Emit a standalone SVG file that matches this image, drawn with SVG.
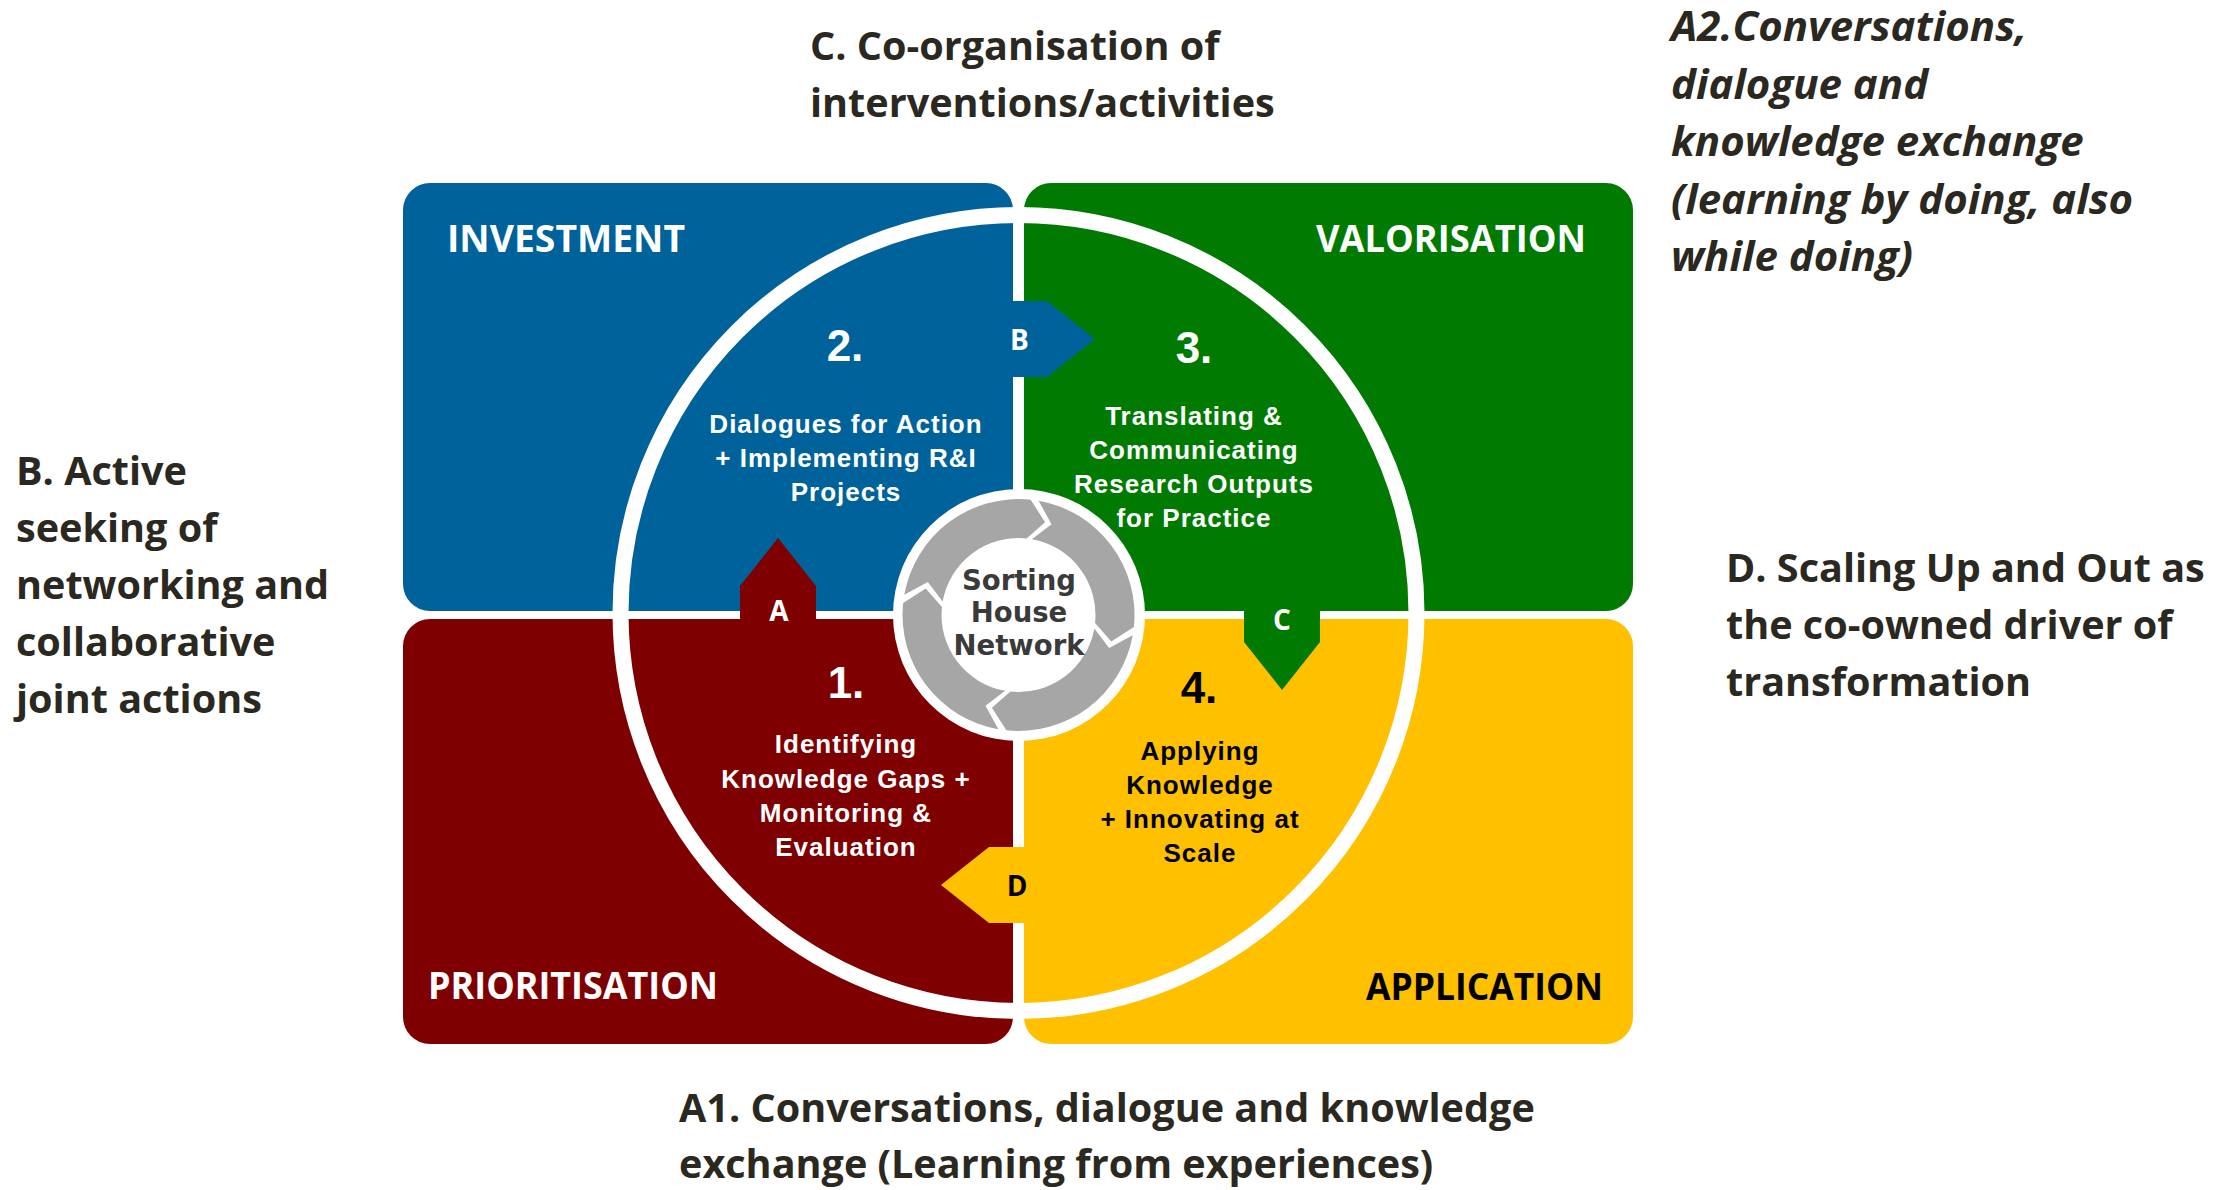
<svg xmlns="http://www.w3.org/2000/svg" width="2240" height="1190" viewBox="0 0 2240 1190">
<style>
.qtitle{font-family:'Open Sans','Liberation Sans',sans-serif;font-weight:700;font-size:38px}
.num{font-family:'Liberation Sans',Arial,sans-serif;font-weight:700;font-size:44px;text-anchor:middle}
.body{font-family:'Liberation Sans',Arial,sans-serif;font-weight:700;font-size:26px;letter-spacing:1px;text-anchor:middle}
.outer{font-family:'Open Sans','Liberation Sans',sans-serif;font-weight:700;font-size:39.6px;fill:#2b2821}
.ital{font-style:italic;font-size:42px}
.tag{font-family:'Open Sans','Liberation Sans',sans-serif;font-weight:700;font-size:28px;text-anchor:middle}
.sh{font-family:'DejaVu Sans',Verdana,sans-serif;font-weight:700;font-size:27.5px;fill:#3a3a3a;text-anchor:middle}
.w{fill:#ffffff}
.k{fill:#000000}
</style>
<defs>
<path id="seg" d="M1032.64,499.87 A116,116 0 0 1 1134.34,621.07 L1112.53,636.71 L1095.39,619.03 A77,77 0 0 0 1027.89,538.58 L1046.72,522.72 Z" fill="#a6a6a6"/>
</defs>

<g id="quadrant-investment">
<rect x="403" y="183" width="610" height="428" rx="27" fill="#00629a"/>
<text class="qtitle w" x="447" y="252" textLength="238" lengthAdjust="spacingAndGlyphs">INVESTMENT</text>
<text class="num w" x="845" y="361">2.</text>
<text class="body w" x="846" y="433">Dialogues for Action</text>
<text class="body w" x="846" y="467">+ Implementing R&amp;I</text>
<text class="body w" x="846" y="501">Projects</text>
</g>

<g id="quadrant-valorisation">
<rect x="1024" y="183" width="609" height="428" rx="27" fill="#007a00"/>
<text class="qtitle w" x="1316" y="252" textLength="270" lengthAdjust="spacingAndGlyphs">VALORISATION</text>
<text class="num w" x="1194" y="363">3.</text>
<text class="body w" x="1194" y="425">Translating &amp;</text>
<text class="body w" x="1194" y="459">Communicating</text>
<text class="body w" x="1194" y="493">Research Outputs</text>
<text class="body w" x="1194" y="527">for Practice</text>
</g>

<g id="quadrant-prioritisation">
<rect x="403" y="619" width="610" height="425" rx="27" fill="#7f0000"/>
<text class="qtitle w" x="428" y="999" textLength="290" lengthAdjust="spacingAndGlyphs">PRIORITISATION</text>
<text class="num w" x="846" y="698">1.</text>
<text class="body w" x="846" y="753">Identifying</text>
<text class="body w" x="846" y="788">Knowledge Gaps +</text>
<text class="body w" x="846" y="822">Monitoring &amp;</text>
<text class="body w" x="846" y="856">Evaluation</text>
</g>

<g id="quadrant-application">
<rect x="1024" y="619" width="609" height="425" rx="27" fill="#ffc000"/>
<text class="qtitle k" x="1366" y="1000" textLength="237" lengthAdjust="spacingAndGlyphs">APPLICATION</text>
<text class="num k" x="1199" y="703">4.</text>
<text class="body k" x="1200" y="760">Applying</text>
<text class="body k" x="1200" y="794">Knowledge</text>
<text class="body k" x="1200" y="828">+ Innovating at</text>
<text class="body k" x="1200" y="862">Scale</text>
</g>

<g id="ring">
<circle cx="1018.5" cy="613" r="398" fill="none" stroke="#ffffff" stroke-width="16"/>
</g>

<g id="connectors">
<g id="arrow-A">
<path d="M740,623 L740,586 L778,538 L816,586 L816,623 Z" fill="#7f0000"/>
<text class="tag w" x="779" y="621">A</text>
</g>
<g id="arrow-B">
<path d="M996,301 L1047,301 L1095,339 L1047,377 L996,377 Z" fill="#00629a"/>
<text class="tag w" x="1019.5" y="350">B</text>
</g>
<g id="arrow-C">
<path d="M1244,605 L1320,605 L1320,642 L1282,690 L1244,642 Z" fill="#007a00"/>
<text class="tag w" x="1282" y="630">C</text>
</g>
<g id="arrow-D">
<path d="M1027,847 L1027,923 L989,923 L941,885 L989,847 Z" fill="#ffc000"/>
<text class="tag k" x="1017" y="896">D</text>
</g>
</g>

<g id="sorting-house">
<circle cx="1019" cy="615" r="126" fill="#ffffff"/>
<use href="#seg" transform="rotate(3 1018.5 615)"/>
<use href="#seg" transform="rotate(93 1018.5 615)"/>
<use href="#seg" transform="rotate(183 1018.5 615)"/>
<use href="#seg" transform="rotate(273 1018.5 615)"/>
<text class="sh" x="1019" y="590">Sorting</text>
<text class="sh" x="1019" y="622">House</text>
<text class="sh" x="1019" y="655">Network</text>
</g>

<g id="label-C">
<text class="outer" x="810" y="60">C. Co-organisation of</text>
<text class="outer" x="810" y="117">interventions/activities</text>
</g>

<g id="label-A2">
<text class="outer ital" x="1671" y="41">A2.Conversations,</text>
<text class="outer ital" x="1671" y="99">dialogue and</text>
<text class="outer ital" x="1671" y="156">knowledge exchange</text>
<text class="outer ital" x="1671" y="214">(learning by doing, also</text>
<text class="outer ital" x="1671" y="271">while doing)</text>
</g>

<g id="label-B">
<text class="outer" x="16" y="485">B. Active</text>
<text class="outer" x="16" y="542">seeking of</text>
<text class="outer" x="16" y="599">networking and</text>
<text class="outer" x="16" y="656">collaborative</text>
<text class="outer" x="16" y="713">joint actions</text>
</g>

<g id="label-D">
<text class="outer" x="1726" y="582">D. Scaling Up and Out as</text>
<text class="outer" x="1726" y="639">the co-owned driver of</text>
<text class="outer" x="1726" y="696">transformation</text>
</g>

<g id="label-A1">
<text class="outer" x="679" y="1122">A1. Conversations, dialogue and knowledge</text>
<text class="outer" x="679" y="1178">exchange (Learning from experiences)</text>
</g>
</svg>
